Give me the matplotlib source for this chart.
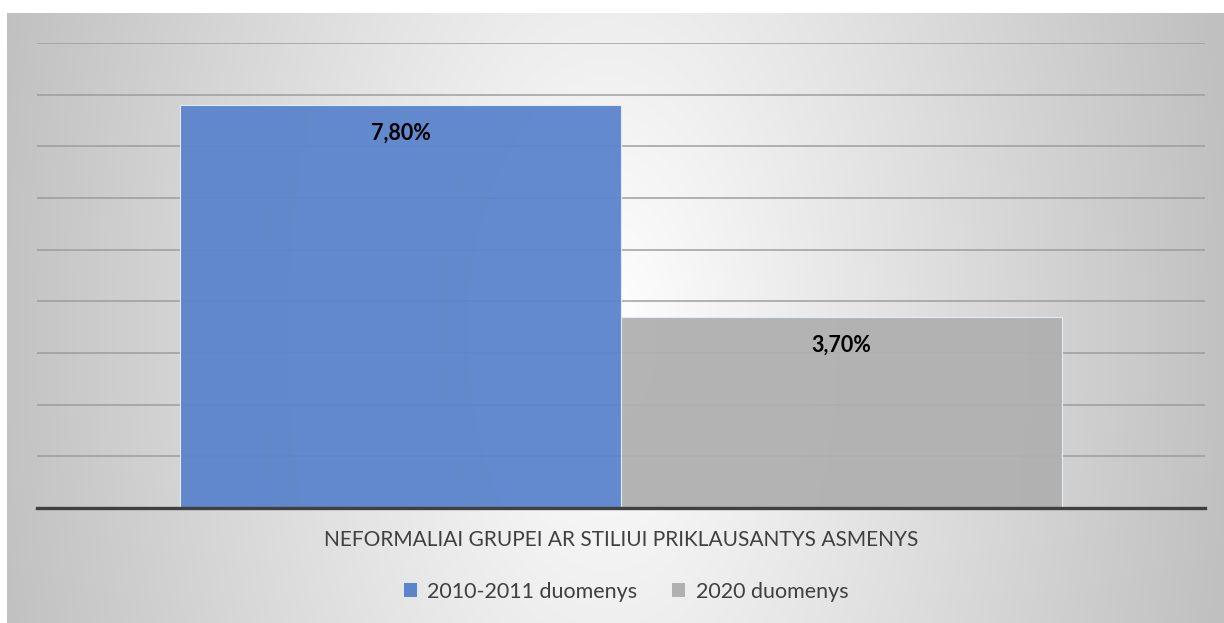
import numpy as np
import matplotlib.pyplot as plt
from matplotlib.patches import Patch

# data
category = ["NEFORMALIAI GRUPEI AR STILIUI PRIKLAUSANTYS ASMENYS"]
series = ["2010-2011 duomenys", "2020 duomenys"]
values = [7.8, 3.7]
value_labels = ["7,80%", "3,70%"]
colors = ["#5b84cc", "#b0b0b0"]

plt.rcParams['font.family'] = ['Lato', 'DejaVu Sans']

W, H = 1224, 623
fig = plt.figure(figsize=(W / 100, H / 100), dpi=100, facecolor='white')

# radial grey-white background of the chart area
bg = fig.add_axes([7 / W, 0, 1 - 7 / W, (H - 13) / H], zorder=-10)
bw, bh = 1217, 610
xx, yy = np.meshgrid(np.arange(bw), np.arange(bh))
cx, cy = 600, 320
t = np.sqrt(((xx - cx) / 600.0) ** 2 + ((yy - cy) / 1100.0) ** 2)
shade = np.clip(255 - 60 * t, 192, 255) / 255.0
bg.imshow(np.dstack([shade] * 3), aspect='auto', interpolation='bilinear')
bg.set_axis_off()

ax = fig.add_axes([37 / W, (H - 508) / H, 1168 / W, 465 / H])
ax.set_facecolor('none')

width = 0.3776
offsets = [-0.1888, 0.1888]
for i in range(len(series)):
    ax.bar(offsets[i], values[i], width=width, color=colors[i], alpha=0.95,
           edgecolor='#e8eef8', linewidth=0.8, zorder=3)
    ax.annotate(value_labels[i], (offsets[i], values[i]), xytext=(0, -28),
                textcoords='offset pixels', ha='center', va='center',
                fontsize=15.5, fontweight='bold', color='black', zorder=5)

ax.set_xlim(-0.5, 0.5)
ax.set_ylim(0, 9)
ax.set_yticks(np.arange(1, 10))
ax.yaxis.grid(True, color='#9a9a9a', linewidth=1.3, alpha=0.8, zorder=1)
ax.tick_params(axis='y', left=False, labelleft=False)
ax.set_xticks([0], category)
ax.tick_params(axis='x', length=0, pad=16, labelsize=15, labelcolor='#404040')
for s in ['top', 'right', 'left']:
    ax.spines[s].set_visible(False)
ax.spines['bottom'].set_color('#404040')
ax.spines['bottom'].set_linewidth(2.4)
ax.spines['bottom'].set_zorder(4)

handles = [Patch(facecolor=c, edgecolor='none') for c in colors]
fig.legend(handles, series, loc='center', bbox_to_anchor=(626 / W, 0.05),
           ncol=2, frameon=False, fontsize=15.5, labelcolor='#404040',
           handlelength=0.6, handleheight=0.6, handletextpad=0.5,
           columnspacing=1.6)

fig.savefig('out.png', dpi=100, facecolor='white')
